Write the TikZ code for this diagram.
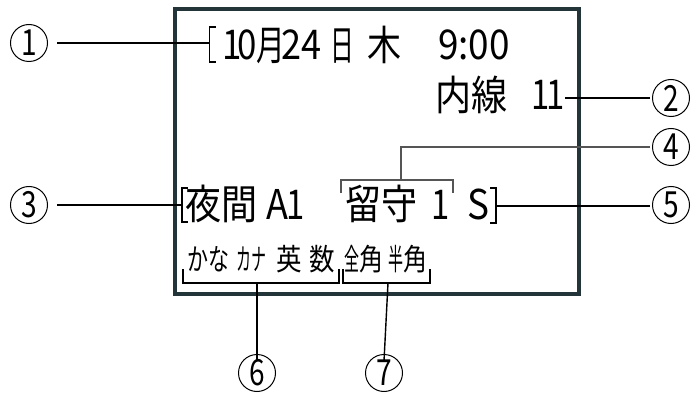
\documentclass[tikz,border=0pt]{standalone}
\usepackage{graphicx}
\usepackage{fontspec}
\newfontfamily\jpfont{Noto Sans CJK JP}
\definecolor{boxc}{HTML}{243539}
\definecolor{leadgray}{HTML}{555555}
\tikzset{
  txt/.style={inner sep=0pt, anchor=base west, font=\jpfont\fontsize{41}{41}\selectfont},
  smalltxt/.style={inner sep=0pt, anchor=base west, font=\jpfont\fontsize{30}{30}\selectfont},
  num/.style={circle, draw, line width=1pt, minimum size=37pt, inner sep=0pt, font=\jpfont\fontsize{36}{36}\selectfont},
  lead/.style={line width=1.4pt},
  leadg/.style={line width=1.2pt, draw=leadgray},
  brk/.style={line width=1.6pt},
  lcdbox/.style={line width=4pt, draw=boxc},
}
\newcommand{\sx}[2]{\scalebox{#1}[1]{#2}}
\begin{document}
\begin{tikzpicture}[x=1pt,y=-1pt]
\useasboundingbox (0,0) rectangle (696,393);
% display frame
\draw[lcdbox] (175,9.5) rectangle (579,294);

% row 1
\node[txt] (d1) at (222,60) {\sx{0.85}{1}};
\node[txt] (d2) at (237,60) {\sx{0.85}{0}};
\node[txt] (d3) at (256,61) {\sx{0.7}{月}};
\node[txt] (d4) at (281,60) {\sx{0.88}{24}};
\node[txt] (d5) at (330,61) {\sx{0.58}{日}};
\node[txt] (d6) at (367,61) {\sx{0.83}{木}};
\node[txt] (d7) at (438,60) {\sx{0.9}{9:00}};
% row 2
\node[txt] (e1) at (435,111) {\sx{0.88}{内線}};
\node[txt] (e2) at (531,110) {\sx{0.8}{1}};
\node[txt] (e3) at (546,110) {\sx{0.8}{1}};
% row 3
\node[txt] (f1) at (185,219) {\sx{0.88}{夜間}};
\node[txt] (f2) at (266,219) {\sx{0.88}{A}};
\node[txt] (f3) at (286,219) {\sx{0.8}{1}};
\node[txt] (g1) at (345,219) {\sx{0.88}{留守}};
\node[txt] (g2) at (431,219) {\sx{0.8}{1}};
\node[txt] (h1) at (467,219) {\sx{0.9}{S}};
% row 4
\node[smalltxt] (k1) at (187,270) {\sx{0.7}{かな}};
\node[smalltxt] (k2) at (236,270) {\sx{0.5}{カナ}};
\node[smalltxt] (k3) at (276,270) {\sx{0.85}{英}};
\node[smalltxt] (k4) at (309,270) {\sx{0.85}{数}};
\node[smalltxt] (m1) at (344,270) {\sx{0.5}{全}\sx{0.8}{角}};
\node[smalltxt] (m2) at (388,270) {\sx{0.5}{半}\sx{0.8}{角}};

% callout numbers
\node[num] (c1) at (29,43) {\sx{0.78}{1}};
\node[num] (c2) at (671,98) {\sx{0.78}{2}};
\node[num] (c3) at (29,205) {\sx{0.78}{3}};
\node[num] (c4) at (671,147) {\sx{0.78}{4}};
\node[num] (c5) at (671,205) {\sx{0.78}{5}};
\node[num] (c6) at (257,373) {\sx{0.78}{6}};
\node[num] (c7) at (384,373) {\sx{0.78}{7}};

% bracket coordinates
\coordinate (b1) at (209.5,43);
\coordinate (b2) at (565,98);
\coordinate (b3) at (182,205);
\coordinate (b4) at (401,180);
\coordinate (b5) at (496,206);
\coordinate (b6) at (257,283);
\coordinate (b7) at (388,283);

% brackets
\draw[brk] (216,27) -- (209.5,27) -- (209.5,62) -- (216,62);
\draw[brk] (188,188) -- (182,188) -- (182,222) -- (188,222);
\draw[brk] (490,188) -- (496,188) -- (496,223) -- (490,223);
\draw[leadg] (341,193) -- (341,180) -- (453,180) -- (453,193);
\draw[brk] (183,269) -- (183,283) -- (339,283) -- (339,269);
\draw[brk] (343,269) -- (343,283) -- (430,283) -- (430,269);

% leader lines
\draw[lead] ([xshift=9pt]c1.east) -- (b1);
\draw[lead] ([xshift=-2pt]c2.west) -- (b2);
\draw[lead] ([xshift=9pt]c3.east) -- (b3);
\draw[leadg] ([xshift=-2pt]c4.west) -- (b4 |- c4) -- (b4);
\draw[lead] ([xshift=-2pt]c5.west |- b5) -- (b5);
\draw[lead] ([yshift=-7pt]c6.north) -- (b6);
\draw[lead] ([yshift=-7pt]c7.north) -- (b7);
\end{tikzpicture}
\end{document}
